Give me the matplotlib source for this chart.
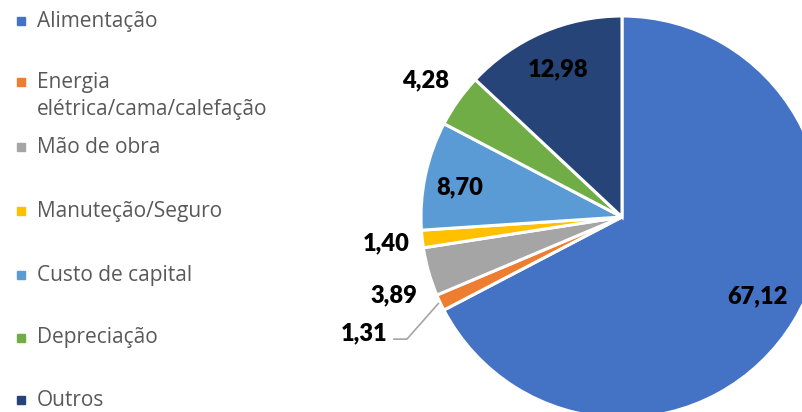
import matplotlib
matplotlib.use("Agg")
import matplotlib.pyplot as plt
import numpy as np

categories = ["Alimentação", "Energia\nelétrica/cama/calefação", "Mão de obra",
              "Manuteção/Seguro", "Custo de capital", "Depreciação", "Outros"]
values = [67.12, 1.31, 3.89, 1.40, 8.70, 4.28, 12.98]
value_labels = ["67,12", "1,31", "3,89", "1,40", "8,70", "4,28", "12,98"]
colors = ["#4472C4", "#ED7D31", "#A5A5A5", "#FFC000", "#5B9BD5", "#70AD47", "#264478"]

W, H = 803, 412
fig = plt.figure(figsize=(W / 100, H / 100), dpi=100)
ax = fig.add_axes([0, 0, 1, 1])

cx, cy, R = 622, H - 217, 201
wedges, _ = ax.pie(values, colors=colors, startangle=90, counterclock=False,
                   center=(cx, cy), radius=R,
                   wedgeprops=dict(edgecolor="white", linewidth=2.2))
ax.set_xlim(0, W)
ax.set_ylim(0, H)
ax.set_aspect("equal")
ax.axis("off")

# label radial placement (fraction of radius) and angle tweak (deg)
label_r = [0.78, 1.408, 1.20, 1.18, 0.82, 1.19, 0.80]
label_dang = [1.0, -1.0, 3.0, 0.0, 1.5, 0.5, 0.0]
for i, w in enumerate(wedges):
    mid = 0.5 * (w.theta1 + w.theta2)
    a = np.deg2rad(mid + label_dang[i])
    x = cx + label_r[i] * R * np.cos(a)
    y = cy + label_r[i] * R * np.sin(a)
    ax.text(x, y, value_labels[i], ha="center", va="center",
            fontsize=17, fontweight="heavy", family="Lato", color="black")
    if i == 1:
        am = np.deg2rad(mid)
        ex, ey = cx + 1.01 * R * np.cos(am), cy + 1.01 * R * np.sin(am)
        ly = y - 6
        ax.plot([x + 30, x + 43, ex], [ly, ly, ey], color="#A5A5A5", lw=1.2,
                solid_joinstyle="miter")

# legend drawn manually
leg_y = [21, 82, 147, 211, 275, 338, 400]
line_step = 27
for i, cat in enumerate(categories):
    yy = H - leg_y[i]
    ax.plot([21], [yy], marker="s", markersize=5.2, color=colors[i], linestyle="none")
    for j, line in enumerate(cat.split("\n")):
        ax.text(37, yy - j * line_step, line, ha="left", va="center",
                fontsize=15, family="Open Sans", color="#595959")

fig.savefig("out.png", dpi=100)
